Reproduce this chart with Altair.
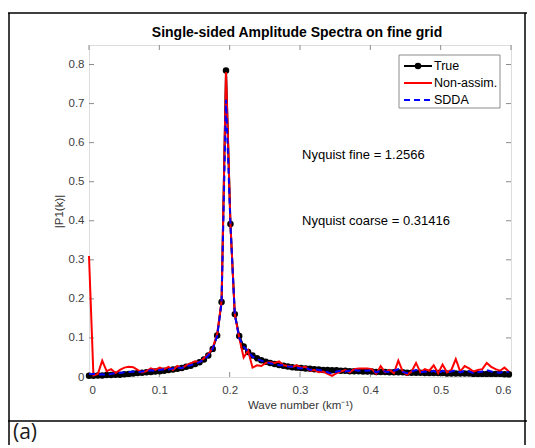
import altair as alt
import pandas as pd

# ---------------- data ----------------
k = [0.0, 0.0063, 0.0126, 0.0188, 0.0251, 0.0314, 0.0377, 0.0440, 0.0503, 0.0565,
     0.0628, 0.0691, 0.0754, 0.0817, 0.0880, 0.0942, 0.1005, 0.1068, 0.1131, 0.1194,
     0.1257, 0.1319, 0.1382, 0.1445, 0.1508, 0.1571, 0.1634, 0.1696, 0.1759, 0.1822,
     0.1885, 0.1948, 0.2011, 0.2073, 0.2136, 0.2199, 0.2262, 0.2325, 0.2388, 0.2450,
     0.2513, 0.2576, 0.2639, 0.2702, 0.2765, 0.2827, 0.2890, 0.2953, 0.3016, 0.3079,
     0.3142, 0.3204, 0.3267, 0.3330, 0.3393, 0.3456, 0.3519, 0.3581, 0.3644, 0.3707,
     0.3770, 0.3833, 0.3896, 0.3958, 0.4021, 0.4084, 0.4147, 0.4210, 0.4273, 0.4335,
     0.4398, 0.4461, 0.4524, 0.4587, 0.4650, 0.4712, 0.4775, 0.4838, 0.4901, 0.4964,
     0.5027, 0.5089, 0.5152, 0.5215, 0.5278, 0.5341, 0.5404, 0.5466, 0.5529, 0.5592,
     0.5655, 0.5718, 0.5781, 0.5844, 0.5907, 0.5970]

true_amp = [0.003, 0.003, 0.004, 0.004, 0.005, 0.005, 0.006, 0.006, 0.007, 0.008,
            0.009, 0.010, 0.011, 0.012, 0.013, 0.014, 0.015, 0.016, 0.018, 0.019,
            0.021, 0.023, 0.026, 0.029, 0.033, 0.038, 0.045, 0.055, 0.072, 0.106,
            0.192, 0.785, 0.392, 0.161, 0.105, 0.078, 0.064, 0.055, 0.048, 0.043,
            0.039, 0.036, 0.033, 0.031, 0.029, 0.027, 0.025, 0.024, 0.023, 0.022,
            0.021, 0.020, 0.019, 0.018, 0.018, 0.017, 0.017, 0.016, 0.016, 0.015,
            0.015, 0.015, 0.014, 0.014, 0.014, 0.013, 0.013, 0.013, 0.012, 0.012,
            0.012, 0.012, 0.011, 0.011, 0.011, 0.011, 0.010, 0.010, 0.010, 0.010,
            0.010, 0.009, 0.009, 0.009, 0.009, 0.009, 0.009, 0.008, 0.008, 0.008,
            0.008, 0.008, 0.008, 0.008, 0.007, 0.007]

nonassim_amp = [0.310, 0.004, 0.008, 0.042, 0.015, 0.020, 0.010, 0.018, 0.024, 0.026,
                0.025, 0.018, 0.012, 0.015, 0.022, 0.018, 0.024, 0.020, 0.026, 0.018,
                0.028, 0.022, 0.030, 0.035, 0.040, 0.038, 0.048, 0.058, 0.075, 0.110,
                0.195, 0.780, 0.392, 0.160, 0.100, 0.050, 0.068, 0.024, 0.030, 0.028,
                0.036, 0.038, 0.036, 0.040, 0.030, 0.028, 0.026, 0.030, 0.024, 0.026,
                0.016, 0.018, 0.012, 0.014, 0.008, 0.003, 0.010, 0.014, 0.018, 0.012,
                0.020, 0.022, 0.022, 0.022, 0.020, 0.008, 0.028, 0.012, 0.018, 0.010,
                0.042, 0.014, 0.006, 0.014, 0.036, 0.012, 0.020, 0.016, 0.030, 0.010,
                0.032, 0.012, 0.018, 0.046, 0.014, 0.028, 0.022, 0.014, 0.018, 0.020,
                0.036, 0.026, 0.020, 0.016, 0.024, 0.014]

sdda_amp = [0.008, 0.008, 0.006, 0.007, 0.005, 0.008, 0.010, 0.010, 0.012, 0.013,
            0.014, 0.012, 0.014, 0.015, 0.017, 0.016, 0.018, 0.020, 0.019, 0.022,
            0.024, 0.023, 0.027, 0.030, 0.034, 0.038, 0.045, 0.055, 0.072, 0.105,
            0.190, 0.710, 0.390, 0.160, 0.100, 0.078, 0.065, 0.052, 0.046, 0.042,
            0.038, 0.035, 0.033, 0.030, 0.030, 0.027, 0.026, 0.024, 0.022, 0.024,
            0.018, 0.020, 0.018, 0.016, 0.012, 0.008, 0.014, 0.016, 0.014, 0.016,
            0.018, 0.016, 0.017, 0.016, 0.018, 0.012, 0.016, 0.014, 0.012, 0.016,
            0.020, 0.013, 0.010, 0.014, 0.018, 0.012, 0.014, 0.012, 0.016, 0.010,
            0.016, 0.012, 0.014, 0.018, 0.012, 0.016, 0.014, 0.010, 0.012, 0.014,
            0.018, 0.014, 0.012, 0.011, 0.014, 0.012]

series_names = ["True", "Non-assim.", "SDDA"]
x_ticks = [0, 0.1, 0.2, 0.3, 0.4, 0.5, 0.6]
y_ticks = [0, 0.1, 0.2, 0.3, 0.4, 0.5, 0.6, 0.7, 0.8]
annotations = ["Nyquist fine = 1.2566", "Nyquist coarse = 0.31416"]
annot_x = [0.303, 0.303]
annot_y = [0.569, 0.40]
title_text = "Single-sided Amplitude Spectra on fine grid"
panel_label = "(a)"

# ---------------- styling ----------------
W, H = 422, 332
FONT = "Liberation Sans"
AXC = "#404040"
FRAME = "#8c8c8c"

xs = alt.Scale(domain=[0, 0.6], nice=False, zero=False)
ys = alt.Scale(domain=[0, 0.85], nice=False, zero=False)
x_axis = alt.Axis(values=x_ticks, format="~g", title="Wave number (km⁻¹)",
                  ticks=False, domain=False, grid=False, labelPadding=7,
                  labelFontSize=11.5, labelColor=AXC, labelFont=FONT,
                  titleFont=FONT, titleFontSize=11.5, titleFontWeight="normal",
                  titleColor="#333333", titlePadding=4)
y_axis = alt.Axis(values=y_ticks, format="~g", title="|P1(k)|",
                  ticks=False, domain=False, grid=False, labelPadding=5,
                  labelFontSize=11.5, labelColor=AXC, labelFont=FONT,
                  titleFont=FONT, titleFontSize=11.5, titleFontWeight="normal",
                  titleColor="#333333", titlePadding=4)

df_true = pd.DataFrame({"k": k, "amp": true_amp})
df_non = pd.DataFrame({"k": k, "amp": nonassim_amp})
df_sdda = pd.DataFrame({"k": k, "amp": sdda_amp})
X = alt.X("k:Q", scale=xs, axis=x_axis)
Y = alt.Y("amp:Q", scale=ys, axis=y_axis)

one = pd.DataFrame({"d": [0]})

# ticks pointing inward (MATLAB style)
xt = pd.DataFrame({"k": x_ticks})
yt = pd.DataFrame({"amp": y_ticks})
tick_style = dict(color=FRAME, strokeWidth=1)
ticks_bottom = alt.Chart(xt).mark_rule(**tick_style).encode(x=X, y=alt.value(H), y2=alt.value(H - 5))
ticks_top = alt.Chart(xt).mark_rule(**tick_style).encode(x=X, y=alt.value(0), y2=alt.value(5))
ticks_left = alt.Chart(yt).mark_rule(**tick_style).encode(y=Y, x=alt.value(0), x2=alt.value(5))
ticks_right = alt.Chart(yt).mark_rule(**tick_style).encode(y=Y, x=alt.value(W), x2=alt.value(W - 5))

line_true = alt.Chart(df_true).mark_line(color="black", strokeWidth=2).encode(x=X, y=Y)
pts_true = alt.Chart(df_true).mark_circle(color="black", size=42, opacity=1).encode(x=X, y=Y)
line_non = alt.Chart(df_non).mark_line(color="#ff0000", strokeWidth=2).encode(x=X, y=Y)
line_sdda = alt.Chart(df_sdda).mark_line(color="#0000ff", strokeWidth=2, strokeDash=[6, 4]).encode(x=X, y=Y)

df_ann = pd.DataFrame({"k": annot_x, "amp": annot_y, "t": annotations})
ann = alt.Chart(df_ann).mark_text(align="left", baseline="middle", fontSize=13,
                                  font=FONT, color="black").encode(x=X, y=Y, text="t:N")

# title as a text mark (centred above the plot area)
title_mark = alt.Chart(one).mark_text(align="center", baseline="middle", fontSize=14,
                                      fontWeight="bold", font=FONT, color="black").encode(
    x=alt.value(W / 2 - 3), y=alt.value(-12), text=alt.value(title_text))

# legend (MATLAB-style box)
LX0, LX1, LY0, LY1 = 310, 411, 10, 63
leg_box = alt.Chart(one).mark_rect(fill="white", stroke=FRAME, strokeWidth=1).encode(
    x=alt.value(LX0), x2=alt.value(LX1), y=alt.value(LY0), y2=alt.value(LY1))
ly = [21, 38, 55]
leg_true = alt.Chart(one).mark_rule(color="black", strokeWidth=2).encode(
    x=alt.value(315), x2=alt.value(343), y=alt.value(ly[0]))
leg_true_pt = alt.Chart(one).mark_circle(color="black", size=42, opacity=1).encode(
    x=alt.value(329), y=alt.value(ly[0]))
leg_non = alt.Chart(one).mark_rule(color="#ff0000", strokeWidth=2).encode(
    x=alt.value(315), x2=alt.value(343), y=alt.value(ly[1]))
leg_sdda = alt.Chart(one).mark_rule(color="#0000ff", strokeWidth=2, strokeDash=[6, 4]).encode(
    x=alt.value(315), x2=alt.value(343), y=alt.value(ly[2]))
leg_text = [alt.Chart(one).mark_text(align="left", baseline="middle", fontSize=12.5, font=FONT,
                                     color="black").encode(
    x=alt.value(345), y=alt.value(ly[i]), text=alt.value(series_names[i])) for i in range(3)]

# document table frame around the figure
edge = dict(color="black", strokeWidth=1.5)
frame_left = alt.Chart(one).mark_rule(**edge).encode(x=alt.value(-80), y=alt.value(-32), y2=alt.value(410))
frame_right = alt.Chart(one).mark_rule(**edge).encode(x=alt.value(436), y=alt.value(-32), y2=alt.value(410))
frame_top = alt.Chart(one).mark_rule(**edge).encode(y=alt.value(-32), x=alt.value(-81), x2=alt.value(440))
frame_row = alt.Chart(one).mark_rule(**edge).encode(y=alt.value(376), x=alt.value(-81), x2=alt.value(440))
label_a = alt.Chart(one).mark_text(align="left", baseline="alphabetic", fontSize=21, font="Open Sans",
                                   color="#1a1a1a").encode(
    x=alt.value(-76), y=alt.value(394), text=alt.value(panel_label))

chart = alt.layer(
    frame_left, frame_right, frame_top, frame_row, label_a, title_mark,
    ticks_bottom, ticks_top, ticks_left, ticks_right,
    line_true, pts_true, line_non, line_sdda, ann,
    leg_box, leg_true, leg_true_pt, leg_non, leg_sdda, *leg_text,
).properties(
    width=W, height=H,
    autosize=alt.AutoSizeParams(type="none"),
    padding={"left": 81, "top": 37, "right": 16, "bottom": 68},
).configure_view(stroke=FRAME, strokeWidth=1).configure(background="white")

chart.save("out.html", embed_options={"renderer": "svg", "actions": False})
